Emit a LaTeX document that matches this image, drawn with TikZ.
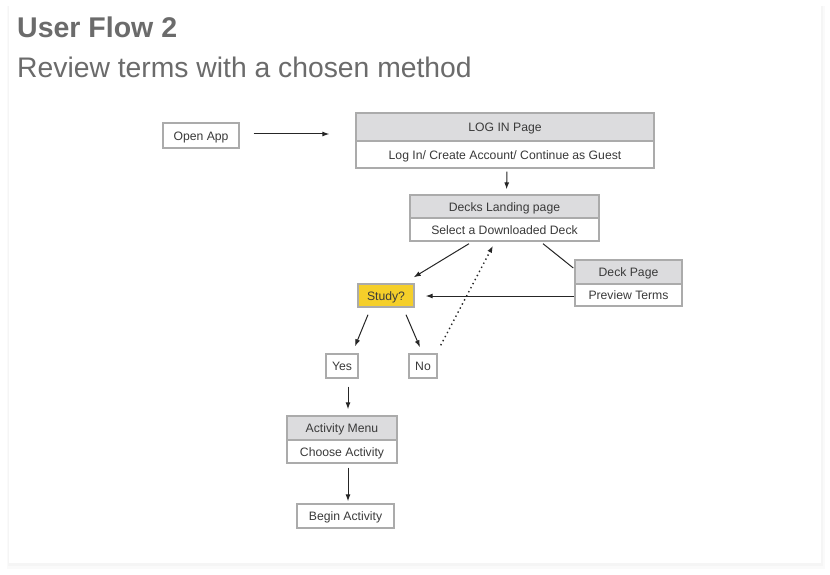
\documentclass[tikz,border=0pt]{standalone}
\usepackage{fontspec}
\setmainfont{Liberation Sans}
\usetikzlibrary{arrows.meta}

\definecolor{boxline}{HTML}{ABABAB}
\definecolor{headfill}{HTML}{DCDCDE}
\definecolor{studyfill}{HTML}{F5CF2A}
\definecolor{labeltext}{HTML}{3A3A3A}
\definecolor{titlegrey}{HTML}{6B6B6B}

\tikzset{
  box/.style={draw=boxline, line width=1.4pt, fill=white, text=labeltext,
    font=\fontsize{12.2}{14}\selectfont, inner sep=0pt, minimum height=23pt,
    text height=10.3pt, text depth=0.7pt},
  headbox/.style={box, fill=headfill},
  flow/.style={-{Latex[length=7pt,width=5pt]}, line width=1pt, black!85},
}

\begin{document}
\begin{tikzpicture}[x=1pt,y=-1pt]
            \useasboundingbox (0,0) rectangle (830,575);

            % card with a soft shadow
            \fill[black!2] (7,6) rectangle (825,569);
            \fill[black!4] (8,6) rectangle (823,566);
            \fill[white] (9,5) rectangle (821,563);

            \node[anchor=base west, inner sep=0pt, text=titlegrey,
                  font=\bfseries\fontsize{28.5}{32}\selectfont] (title) at (17,37.5) {User Flow 2};
            \node[anchor=base west, inner sep=0pt, text=titlegrey,
                  font=\fontsize{28.3}{32}\selectfont] (subtitle) at (17,78) {Review terms with a chosen method};

            \node[box, minimum width=76pt, minimum height=25pt] (open) at (201, 135.5) {Open App};

            \node[headbox, minimum width=298pt, minimum height=28pt] (loginh) at (505, 127) {LOG IN Page};
            \node[box, minimum width=298pt, minimum height=27pt] (loginb) at (505, 154.5) {Log In/ Create Account/ Continue as Guest};

            \node[headbox, minimum width=189pt] (decksh) at (504.5, 206.5) {Decks Landing page};
            \node[box, minimum width=189pt] (decksb) at (504.5, 229.5) {Select a Downloaded Deck};

            \node[headbox, minimum width=107pt, minimum height=24pt] (deckh) at (628.5, 272) {Deck Page};
            \node[box, minimum width=107pt, minimum height=22pt] (deckb) at (628.5, 295) {Preview Terms};

            \node[box, fill=studyfill, minimum width=56pt] (study) at (386, 295.5) {Study?};

            \node[box, minimum width=32pt, minimum height=24pt] (yes) at (342, 366) {Yes};
            \node[box, minimum width=28pt, minimum height=24pt] (no) at (423, 366) {No};

            \node[headbox, minimum width=110pt, minimum height=24pt] (acth) at (342, 428) {Activity Menu};
            \node[box, minimum width=110pt] (actb) at (342, 451.5) {Choose Activity};

            \node[box, minimum width=97pt, minimum height=24pt] (begin) at (345.5, 516) {Begin Activity};

            % connectors
            \draw[flow, shorten <=14pt, shorten >=26pt] ([yshift=1.5pt]open.east) -- ([yshift=1.5pt]open.east -| loginh.west);
            \draw[flow, shorten <=3pt, shorten >=5pt] ([xshift=2pt]loginb.south) -- ([xshift=2pt]decksh.north);
            \draw[flow] ([xshift=-35.5pt,yshift=-2pt]decksb.south) -- ([xshift=-1pt,yshift=6pt]study.north east);
            \draw[line width=1pt, black!85] ([xshift=38.5pt,yshift=-2pt]decksb.south) -- ([xshift=-1pt,yshift=4pt]deckh.west);
            \draw[flow, shorten >=11pt] ([yshift=-1pt]deckb.west) -- ([yshift=-0.5pt]study.east);
            \draw[flow] ([xshift=-18pt,yshift=-7pt]study.south) -- ([xshift=13pt,yshift=7pt]yes.north);
            \draw[flow] ([xshift=20pt,yshift=-7pt]study.south) -- ([xshift=-3pt,yshift=6pt]no.north);
            \draw[flow, line width=1.4pt, dash pattern=on 1.4pt off 3.2pt] ([xshift=3pt,yshift=8pt]no.north east) -- ([xshift=-11.5pt,yshift=-4pt]decksb.south);
            \draw[flow, shorten <=8pt, shorten >=6pt] ([xshift=6pt]yes.south) -- ([xshift=6pt]acth.north);
            \draw[flow, shorten <=4pt, shorten >=2pt] ([xshift=6pt]actb.south) -- ([xshift=6pt,yshift=0pt]actb.south |- begin.north);
\end{tikzpicture}
\end{document}
